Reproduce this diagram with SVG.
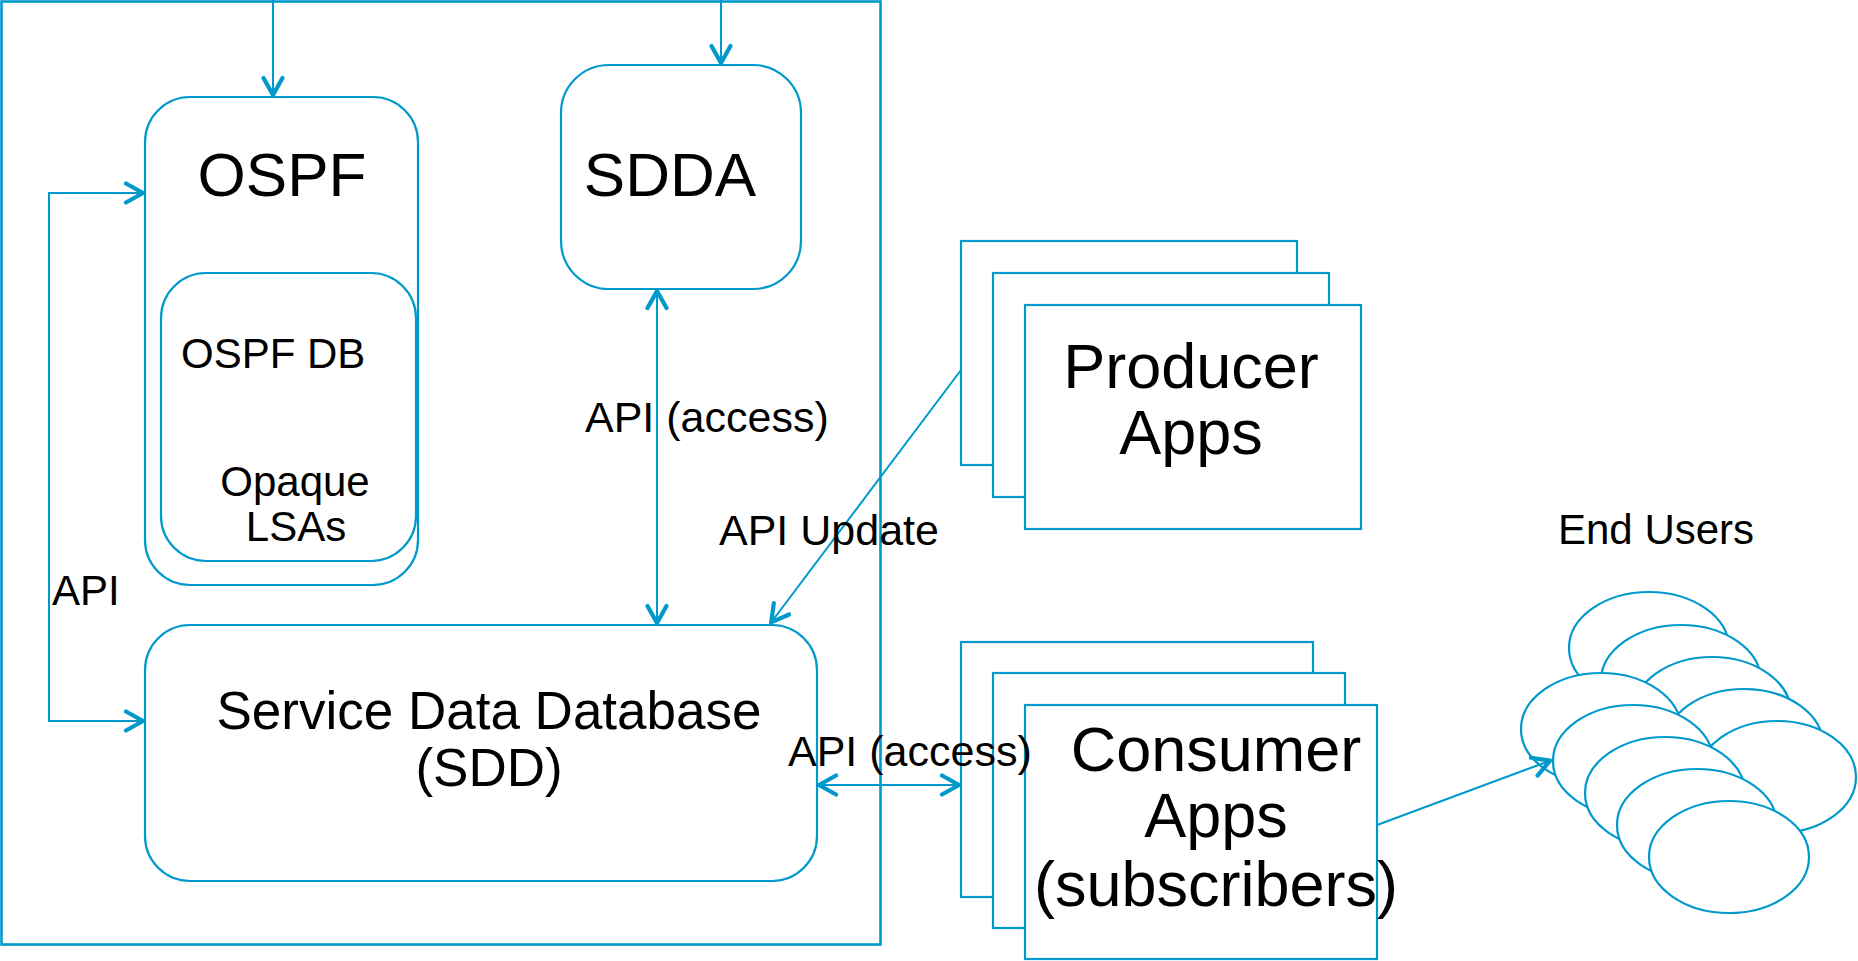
<svg xmlns="http://www.w3.org/2000/svg" width="1858" height="961" viewBox="0 0 1858 961">
<style>
.box{fill:#fff;stroke:#0099cc;stroke-width:2.2}
.frame{fill:none;stroke:#0099cc;stroke-width:2.6}
.con{fill:none;stroke:#0099cc;stroke-width:2}
text{font-family:"Liberation Sans",Arial,sans-serif;fill:#000}
.big{font-size:62px}
.mid{font-size:42px}
.lbl{font-size:43px}
.sdd{font-size:53px}
.app{font-size:63px}
</style>
<defs>
<marker id="arr" viewBox="-22 -12 26 24" refX="0" refY="0" markerWidth="26" markerHeight="24" markerUnits="userSpaceOnUse" orient="auto-start-reverse">
<path d="M-19,-9.5 L-2,0 L-19,9.5" fill="none" stroke="#0099cc" stroke-width="4.2" stroke-linecap="round" stroke-linejoin="round"/>
</marker>
</defs>
<rect id="frame" class="frame" x="1.5" y="1.5" width="879" height="943"/>
<g id="ospf">
<rect class="box" x="145" y="97" width="273" height="488" rx="45" ry="45"/>
<text class="big" x="282" y="196" text-anchor="middle">OSPF</text>
</g>
<g id="ospf-db">
<rect class="box" x="161" y="273" width="255" height="288" rx="45" ry="45"/>
<text class="mid" x="181" y="368">OSPF DB</text>
<text class="mid" x="295" y="496" text-anchor="middle">Opaque</text>
<text class="mid" x="296" y="541" text-anchor="middle">LSAs</text>
</g>
<g id="sdda">
<rect class="box" x="561" y="65" width="240" height="224" rx="48" ry="48"/>
<text class="big" x="670" y="196" text-anchor="middle">SDDA</text>
</g>
<g id="sdd">
<rect class="box" x="145" y="625" width="672" height="256" rx="45" ry="45"/>
<text class="sdd" x="489" y="729" text-anchor="middle">Service Data Database</text>
<text class="sdd" x="489" y="786" text-anchor="middle">(SDD)</text>
</g>
<g id="producer">
<rect class="box" x="961" y="241" width="336" height="224"/>
<rect class="box" x="993" y="273" width="336" height="224"/>
<rect class="box" x="1025" y="305" width="336" height="224"/>
<text class="app" x="1191" y="388" text-anchor="middle">Producer</text>
<text class="app" x="1191" y="454" text-anchor="middle">Apps</text>
</g>
<g id="consumer">
<rect class="box" x="961" y="642" width="352" height="255"/>
<rect class="box" x="993" y="673" width="352" height="255"/>
<rect class="box" x="1025" y="705" width="352" height="254"/>
<text class="app" x="1216" y="771" text-anchor="middle">Consumer</text>
<text class="app" x="1216" y="837" text-anchor="middle">Apps</text>
<text class="app" x="1216" y="906" text-anchor="middle">(subscribers)</text>
</g>
<g id="end-users">
<text class="mid" x="1558" y="544">End Users</text>
<ellipse class="box" cx="1649" cy="648" rx="80" ry="56"/>
<ellipse class="box" cx="1681" cy="681" rx="80" ry="56"/>
<ellipse class="box" cx="1712" cy="713" rx="79" ry="56"/>
<ellipse class="box" cx="1744" cy="745" rx="79" ry="56"/>
<ellipse class="box" cx="1777" cy="777" rx="79" ry="56"/>
<ellipse class="box" cx="1601" cy="729" rx="80" ry="56"/>
<ellipse class="box" cx="1633" cy="761" rx="80" ry="56"/>
<ellipse class="box" cx="1665" cy="793" rx="80" ry="56"/>
<ellipse class="box" cx="1697" cy="825" rx="80" ry="56"/>
<ellipse class="box" cx="1729" cy="857" rx="80" ry="56"/>
</g>
<g id="connectors">
<path class="con" d="M273,0 V97" marker-end="url(#arr)"/>
<path class="con" d="M721,0 V65" marker-end="url(#arr)"/>
<path class="con" d="M145,193 H49 V721 H145" marker-start="url(#arr)" marker-end="url(#arr)"/>
<path class="con" d="M657,289 V625" marker-start="url(#arr)" marker-end="url(#arr)"/>
<path class="con" d="M961,370 L770,624" marker-end="url(#arr)"/>
<path class="con" d="M817,785 H961" marker-start="url(#arr)" marker-end="url(#arr)"/>
<path class="con" d="M1377,825 L1552,760" marker-end="url(#arr)"/>
</g>
<g id="labels">
<text class="lbl" x="585" y="432">API (access)</text>
<text class="lbl" x="719" y="545">API Update</text>
<text class="mid" x="52" y="605">API</text>
<text class="lbl" x="788" y="766">API (access)</text>
</g>
</svg>
